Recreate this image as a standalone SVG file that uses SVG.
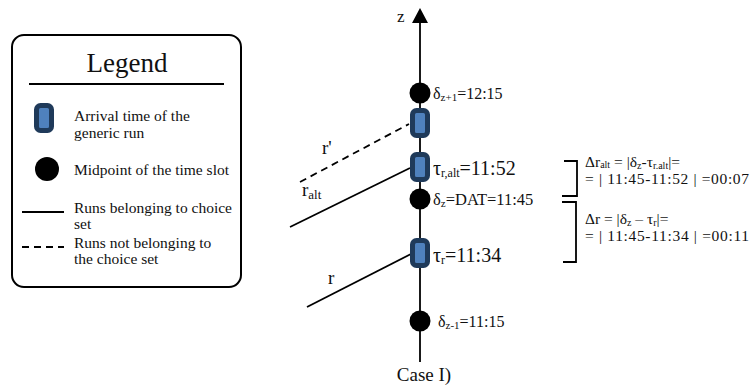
<svg xmlns="http://www.w3.org/2000/svg" width="753" height="387" viewBox="0 0 753 387" font-family="Liberation Serif, serif">
<style>
.run{fill:#4f81bd;stroke:#1f3a5a;stroke-width:5}
.dot{fill:#000}
.ln{stroke:#000;stroke-width:1.8;fill:none}
.dash{stroke:#000;stroke-width:1.8;fill:none;stroke-dasharray:7,5}
</style>
<rect width="753" height="387" fill="#fff"/>
<g id="legend" fill="#111">
<rect x="12" y="35" width="229" height="252" rx="12" fill="#fff" stroke="#000" stroke-width="2"/>
<text x="127" y="72" font-size="27" text-anchor="middle">Legend</text>
<line x1="29" y1="84" x2="224" y2="84" stroke="#000" stroke-width="2"/>
<rect class="run" x="36.5" y="105.5" width="15" height="25" rx="4"/>
<g font-size="15.5">
<text x="74" y="121">Arrival time of the</text>
<text x="74" y="138">generic run</text>
<text x="74" y="175">Midpoint of the time slot</text>
<text x="74" y="213">Runs belonging to choice</text>
<text x="74" y="229">set</text>
<text x="74" y="248">Runs not belonging to</text>
<text x="74" y="264">the choice set</text>
</g>
<circle class="dot" cx="47" cy="169" r="12"/>
<line class="ln" x1="22" y1="212" x2="64" y2="212"/>
<line class="dash" x1="22" y1="247" x2="64" y2="247" stroke-dasharray="5,3"/>
</g>
<g id="connectors">
<line class="ln" x1="420" y1="22" x2="420" y2="362" stroke-width="2"/>
<polygon points="420,8 412,23 428,23" fill="#000"/>
<line class="dash" x1="300" y1="182" x2="409" y2="124"/>
<line class="ln" x1="290" y1="227" x2="410" y2="168"/>
<line class="ln" x1="307" y1="307" x2="411" y2="254"/>
<path class="ln" d="M564,161 H577 V196 H562" stroke-width="2"/>
<path class="ln" d="M562,202 H576 V262 H563" stroke-width="2"/>
</g>
<g id="axis-label" fill="#111"><text x="397" y="22" font-size="17">z</text></g>
<g id="delta-z1" fill="#111">
<circle class="dot" cx="420" cy="93" r="10.5"/>
<text font-size="16" x="433" y="99">δ<tspan font-size="11" dy="2">z+1</tspan><tspan dy="-2">=12:15</tspan></text>
</g>
<g id="run-rprime" fill="#111">
<rect class="run" x="412.5" y="110.5" width="15" height="25" rx="4"/>
<text x="322" y="154" font-size="19">r'</text>
</g>
<g id="run-ralt" fill="#111">
<rect class="run" x="412.5" y="154.5" width="15" height="25" rx="4"/>
<text font-size="20" x="433" y="175">τ<tspan font-size="12" dy="2">r,alt</tspan><tspan dy="-2">=11:52</tspan></text>
<text x="302" y="196" font-size="19">r<tspan font-size="13" dy="3">alt</tspan></text>
</g>
<g id="delta-z" fill="#111">
<circle class="dot" cx="420" cy="199" r="10.5"/>
<text font-size="16.5" x="433" y="205">δ<tspan font-size="11" dy="2">z</tspan><tspan dy="-2">=DAT=11:45</tspan></text>
</g>
<g id="run-r" fill="#111">
<rect class="run" x="412.5" y="240.5" width="15" height="25" rx="4"/>
<text font-size="20" x="433" y="262">τ<tspan font-size="12" dy="2">r</tspan><tspan dy="-2">=11:34</tspan></text>
<text x="328" y="284" font-size="19">r</text>
</g>
<g id="delta-z-1" fill="#111">
<circle class="dot" cx="420" cy="321" r="10.5"/>
<text font-size="16" x="438" y="327">δ<tspan font-size="11" dy="2">z-1</tspan><tspan dy="-2">=11:15</tspan></text>
</g>
<g id="case" fill="#111"><text x="424" y="381" font-size="19" text-anchor="middle">Case I)</text></g>
<g id="eq-alt" fill="#111" font-size="15.5">
<text x="585" y="167">Δr<tspan font-size="10" dy="1">alt</tspan><tspan dy="-1"> = |δ</tspan><tspan font-size="10" dy="2">z</tspan><tspan dy="-2">-τ</tspan><tspan font-size="10" dy="2">r.alt</tspan><tspan dy="-2">|=</tspan></text>
<text x="585" y="184" textLength="164" lengthAdjust="spacing">= | 11:45-11:52 | =00:07</text>
</g>
<g id="eq-r" fill="#111" font-size="15.5">
<text x="585" y="224">Δr = |δ<tspan font-size="10" dy="2">z</tspan><tspan dy="-2"> – τ</tspan><tspan font-size="10" dy="2">r</tspan><tspan dy="-2">|=</tspan></text>
<text x="585" y="241" textLength="164" lengthAdjust="spacing">= | 11:45-11:34 | =00:11</text>
</g>
</svg>
